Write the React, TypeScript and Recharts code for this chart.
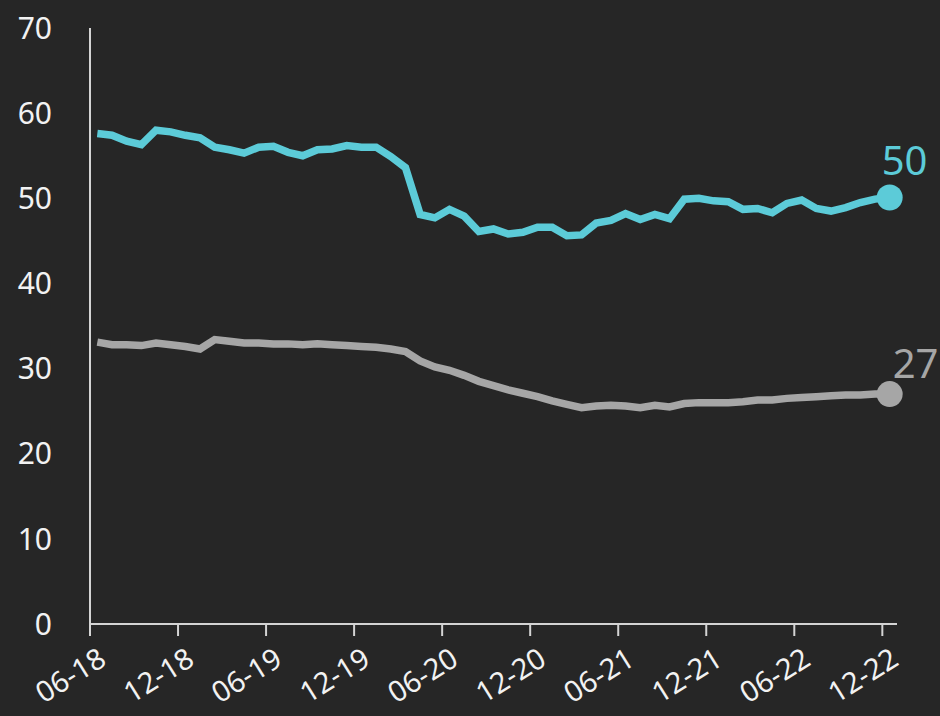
import { LineChart, Line, XAxis, YAxis } from 'recharts';

// monthly share, 06-18 .. 12-22
const cyanSeries = [
  57.6, 57.4, 56.7, 56.3, 58.0, 57.8, 57.4, 57.1, 56.0, 55.7,
  55.3, 56.0, 56.1, 55.4, 55.0, 55.7, 55.8, 56.2, 56.0, 56.0,
  54.9, 53.6, 48.1, 47.7, 48.7, 47.9, 46.1, 46.4, 45.8, 46.0,
  46.6, 46.6, 45.6, 45.7, 47.1, 47.4, 48.2, 47.5, 48.1, 47.6,
  49.9, 50.0, 49.7, 49.6, 48.7, 48.8, 48.3, 49.4, 49.8, 48.8,
  48.5, 48.9, 49.5, 49.9, 50.1,
];
const greySeries = [
  33.1, 32.8, 32.8, 32.7, 33.0, 32.8, 32.6, 32.3, 33.4, 33.2,
  33.0, 33.0, 32.9, 32.9, 32.8, 32.9, 32.8, 32.7, 32.6, 32.5,
  32.3, 32.0, 30.9, 30.2, 29.8, 29.2, 28.5, 28.0, 27.5, 27.1,
  26.7, 26.2, 25.8, 25.4, 25.6, 25.7, 25.6, 25.4, 25.7, 25.5,
  25.9, 26.0, 26.0, 26.0, 26.1, 26.3, 26.3, 26.5, 26.6, 26.7,
  26.8, 26.9, 26.9, 27.0, 27.0,
];
const tickLabels = ['06-18', '12-18', '06-19', '12-19', '06-20', '12-20', '06-21', '12-21', '06-22', '12-22'];
const tickMonths = [0, 6, 12, 18, 24, 30, 36, 42, 48, 54];
const yTicks = [0, 10, 20, 30, 40, 50, 60, 70];

const data = cyanSeries.map((v, i) => ({ x: i + 0.5, cyan: v, grey: greySeries[i] }));
const last = data.length - 1;

const FONT = '"Noto Sans", sans-serif';
const AXIS = '#d4d4d4';
const TEXT = '#f2f2f2';
const CYAN = '#5ccbd8';
const GREY = '#a6a6a6';

const XTick = ({ x, y, payload }: any) => {
  const idx = tickMonths.indexOf(payload.value);
  return (
    <g transform={`translate(${x + 18},${y + 26})`}>
      <text textAnchor="end" transform="rotate(-32)" fill={TEXT} fontSize={29} fontFamily={FONT}>
        {tickLabels[idx]}
      </text>
    </g>
  );
};

const endDot = (color: string) => (props: any) =>
  props.index === last ? <circle key="end" cx={props.cx} cy={props.cy} r={13} fill={color} /> : <g key={props.index} />;

const endLabel = (color: string, dx: number, dy: number) => (props: any) =>
  props.index === last ? (
    <text key="lbl" x={props.x + dx} y={props.y + dy} fill={color} fontSize={40} fontFamily={FONT}>
      {Math.round(props.value)}
    </text>
  ) : null;

export default function App() {
  return (
    <div style={{ width: 940, height: 716, background: '#262626' }}>
      <style>{'body{margin:0;background:#262626}'}</style>
      <LineChart width={940} height={716} data={data} margin={{ top: 28, right: 43, bottom: 0, left: 0 }}>
        <XAxis
          dataKey="x"
          type="number"
          domain={[0, 55]}
          ticks={tickMonths}
          interval={0}
          height={92}
          tickSize={12}
          stroke={AXIS}
          strokeWidth={2}
          tick={<XTick />}
        />
        <YAxis
          domain={[0, 70]}
          ticks={yTicks}
          width={90}
          tickLine={false}
          tickSize={0}
          tickMargin={38}
          stroke={AXIS}
          strokeWidth={2}
          tick={{ fill: TEXT, fontSize: 30, fontFamily: FONT }}
        />
        <Line
          dataKey="cyan"
          stroke={CYAN}
          strokeWidth={7.5}
          dot={endDot(CYAN)}
          activeDot={false}
          label={endLabel(CYAN, -8, -22)}
          isAnimationActive={false}
        />
        <Line
          dataKey="grey"
          stroke={GREY}
          strokeWidth={7.5}
          dot={endDot(GREY)}
          activeDot={false}
          label={endLabel(GREY, 3, -16)}
          isAnimationActive={false}
        />
      </LineChart>
    </div>
  );
}
